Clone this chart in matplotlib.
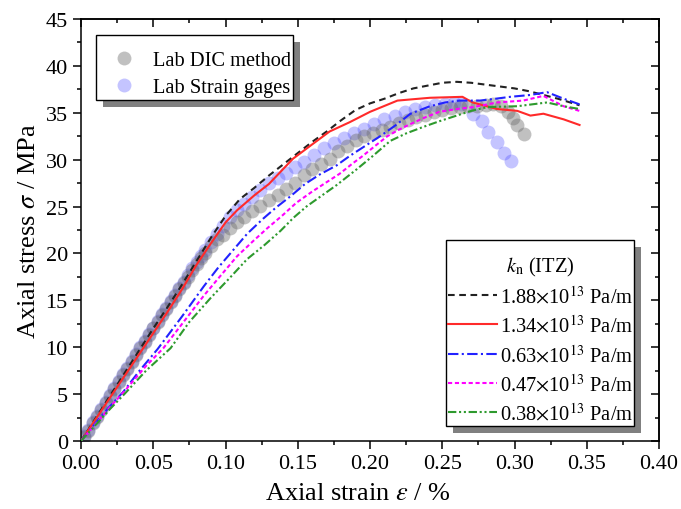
import numpy as np
import matplotlib
matplotlib.use('Agg')
import matplotlib.pyplot as plt
from matplotlib.patches import Rectangle
from matplotlib.ticker import MultipleLocator, FormatStrFormatter

plt.rcParams['font.family'] = ['Liberation Serif', 'DejaVu Serif']
plt.rcParams['mathtext.fontset'] = 'stix'

# Лабораторные данные: датчики деформации
gage_x = [0.002, 0.005, 0.008, 0.011, 0.014, 0.017, 0.020, 0.023, 0.026, 0.029,
          0.032, 0.035, 0.038, 0.041, 0.044, 0.047, 0.050, 0.053, 0.056, 0.059,
          0.062, 0.065, 0.068, 0.071, 0.074, 0.077, 0.080, 0.083, 0.086, 0.090,
          0.094, 0.098, 0.103, 0.108, 0.113, 0.118, 0.124, 0.130, 0.136, 0.142,
          0.148, 0.154, 0.161, 0.168, 0.175, 0.182, 0.189, 0.196, 0.203, 0.210,
          0.217, 0.224, 0.231, 0.238, 0.245, 0.252, 0.258, 0.263, 0.271, 0.2775,
          0.282, 0.288, 0.293, 0.2976]
gage_y = [0.5, 1.2, 2.0, 2.7, 3.4, 4.2, 4.9, 5.6, 6.4, 7.1,
          7.8, 8.5, 9.3, 10.0, 10.7, 11.4, 12.1, 12.8, 13.5, 14.2,
          14.9, 15.6, 16.3, 17.0, 17.7, 18.4, 19.1, 19.7, 20.4, 21.2,
          22.1, 22.9, 23.9, 24.6, 25.3, 26.0, 26.8, 27.5, 28.0, 28.6,
          29.2, 29.8, 30.5, 31.2, 31.8, 32.3, 32.8, 33.3, 33.8, 34.3,
          34.7, 35.1, 35.4, 35.6, 35.8, 35.9, 36.0, 35.9, 34.9, 34.1,
          33.0, 31.9, 30.7, 29.9]

# Лабораторные данные: метод DIC
dic_x = [0.002, 0.005, 0.008, 0.011, 0.014, 0.017, 0.020, 0.023, 0.026, 0.029,
         0.032, 0.035, 0.038, 0.041, 0.044, 0.047, 0.050, 0.053, 0.056, 0.059,
         0.062, 0.065, 0.068, 0.071, 0.074, 0.077, 0.080, 0.083, 0.086, 0.090,
         0.094, 0.098, 0.103, 0.108, 0.113, 0.118, 0.124, 0.130, 0.136, 0.142,
         0.148, 0.154, 0.160, 0.166, 0.172, 0.178, 0.184, 0.190, 0.196, 0.202,
         0.208, 0.214, 0.220, 0.226, 0.232, 0.238, 0.244, 0.250, 0.256, 0.262,
         0.268, 0.274, 0.280, 0.285, 0.2905, 0.2955, 0.299, 0.302, 0.3066]
dic_y = [0.4, 1.1, 1.9, 2.6, 3.3, 4.1, 4.8, 5.5, 6.3, 7.0,
         7.7, 8.4, 9.2, 9.9, 10.6, 11.3, 12.0, 12.7, 13.4, 14.1,
         14.8, 15.5, 16.2, 16.8, 17.5, 18.2, 18.9, 19.5, 20.1, 20.8,
         21.5, 22.0, 22.7, 23.3, 23.9, 24.5, 25.1, 25.7, 26.2, 26.9,
         27.5, 28.4, 29.0, 29.5, 30.1, 30.9, 31.5, 32.1, 32.5, 32.8,
         33.2, 33.5, 33.9, 34.2, 34.5, 34.8, 35.1, 35.3, 35.5, 35.6,
         35.7, 35.7, 35.8, 35.9, 35.7, 35.1, 34.4, 33.7, 32.7]

# Численные кривые для разных k_n (ITZ)
k188_x = [0, 0.01, 0.02, 0.03, 0.04, 0.05, 0.06, 0.07, 0.08, 0.09, 0.10, 0.11,
          0.12, 0.13, 0.14, 0.15, 0.16, 0.17, 0.18, 0.19, 0.20, 0.21, 0.22, 0.23,
          0.24, 0.25, 0.26, 0.27, 0.28, 0.29, 0.30, 0.31, 0.32, 0.33, 0.345]
k188_y = [0, 2.4, 4.8, 7.2, 9.6, 12.0, 14.3, 16.7, 19.2, 21.7, 24.0, 25.8,
          27.0, 28.3, 29.5, 30.7, 31.9, 33.0, 34.2, 35.3, 36.0, 36.5, 37.1, 37.6,
          37.9, 38.2, 38.3, 38.2, 38.0, 37.8, 37.6, 37.3, 36.9, 36.5, 35.8]

k134_x = [0, 0.01, 0.02, 0.03, 0.04, 0.05, 0.06, 0.07, 0.08, 0.09, 0.10, 0.108,
          0.12, 0.13, 0.1467, 0.1606, 0.172, 0.186, 0.20, 0.219, 0.2415, 0.264, 0.271,
          0.288, 0.302, 0.311, 0.32, 0.334, 0.345]
k134_y = [0, 2.3, 4.6, 6.9, 9.2, 11.5, 13.8, 16.2, 18.8, 21.1, 23.3, 24.6,
          26.2, 27.4, 30.1, 31.7, 33.0, 34.0, 35.1, 36.3, 36.6, 36.7, 36.1,
          35.4, 35.2, 34.7, 34.9, 34.3, 33.7]

k063_x = [0, 0.01, 0.02, 0.029, 0.04, 0.053, 0.07, 0.085, 0.095, 0.105, 0.115,
          0.126, 0.135, 0.145, 0.155, 0.165, 0.177, 0.186, 0.196, 0.207, 0.218,
          0.228, 0.2415, 0.252, 0.262, 0.276, 0.287, 0.297, 0.311, 0.3225, 0.334, 0.345]
k063_y = [0, 1.9, 3.7, 5.2, 7.4, 9.8, 13.3, 16.5, 18.5, 20.3, 22.1,
          23.7, 24.9, 26.1, 27.4, 28.4, 29.4, 30.4, 31.4, 32.5, 33.7,
          34.9, 35.7, 36.1, 36.3, 36.3, 36.5, 36.7, 36.9, 37.2, 36.5, 35.9]

k047_x = [0, 0.01, 0.02, 0.03, 0.045, 0.057, 0.07, 0.085, 0.097, 0.108, 0.119,
          0.129, 0.139, 0.149, 0.16, 0.17, 0.179, 0.188, 0.195, 0.203, 0.212,
          0.22, 0.228, 0.238, 0.248, 0.26, 0.271, 0.288, 0.306, 0.32, 0.334, 0.345]
k047_y = [0, 1.8, 3.6, 5.3, 8.0, 9.9, 12.5, 15.5, 17.7, 19.7, 21.3,
          22.7, 24.0, 25.4, 26.6, 27.6, 28.5, 29.6, 30.4, 31.4, 32.5,
          33.2, 33.8, 34.5, 35.1, 35.4, 35.6, 36.1, 36.3, 36.8, 35.7, 35.2]

k038_x = [0, 0.01, 0.02, 0.03, 0.045, 0.062, 0.075, 0.09, 0.103, 0.115, 0.127,
          0.138, 0.147, 0.156, 0.166, 0.177, 0.191, 0.202, 0.208, 0.214, 0.225,
          0.237, 0.248, 0.26, 0.27, 0.281, 0.302, 0.3225, 0.334, 0.345]
k038_y = [0, 1.7, 3.4, 5.0, 7.5, 9.9, 12.7, 15.3, 17.4, 19.4, 20.9,
          22.4, 23.8, 25.0, 26.1, 27.3, 29.0, 30.4, 31.2, 32.0, 32.8,
          33.5, 34.1, 34.7, 35.2, 35.6, 35.7, 36.1, 35.7, 35.4]

fig = plt.figure(figsize=(6.81, 5.10), dpi=100)
ax = fig.add_axes([81/681, 68/510, 578/681, 422/510])

h_gage, = ax.plot(gage_x, gage_y, 'o', ms=10, color=(0.3, 0.3, 1.0), alpha=0.33,
                  mec='none', zorder=2)
h_dic, = ax.plot(dic_x, dic_y, 'o', ms=10, color=(0.42, 0.42, 0.42), alpha=0.42,
                 mec='none', zorder=2)

lw = 1.5
l1, = ax.plot(k188_x, k188_y, color='#222222', lw=lw, ls=(0, (3.2, 2.2)), zorder=3)
l2, = ax.plot(k134_x, k134_y, color='#ff2a2a', lw=lw, ls='-', zorder=3)
l3, = ax.plot(k063_x, k063_y, color='#2222ff', lw=lw, ls=(0, (5, 1.6, 1, 1.6)), zorder=3)
l4, = ax.plot(k047_x, k047_y, color='#ff00ff', lw=lw, ls=(0, (2, 1.3)), zorder=3)
l5, = ax.plot(k038_x, k038_y, color='#2e9a2e', lw=lw, ls=(0, (4, 1.3, 1, 1.3, 1, 1.3)), zorder=3)

ax.set_xlim(0, 0.40)
ax.set_ylim(0, 45)
ax.xaxis.set_major_locator(MultipleLocator(0.05))
ax.xaxis.set_minor_locator(MultipleLocator(0.025))
ax.yaxis.set_major_locator(MultipleLocator(5))
ax.yaxis.set_minor_locator(MultipleLocator(2.5))
ax.xaxis.set_major_formatter(FormatStrFormatter('%.2f'))
ax.tick_params(which='major', direction='out', length=6, width=1.1, labelsize=16)
ax.tick_params(which='minor', direction='out', length=3, width=1.1)
for s in ax.spines.values():
    s.set_linewidth(1.1)

# верхняя и правая оси: засечки внутрь
top = ax.secondary_xaxis('top')
top.xaxis.set_major_locator(MultipleLocator(0.05))
top.xaxis.set_minor_locator(MultipleLocator(0.025))
top.tick_params(which='major', direction='in', length=6, width=1.1, labeltop=False)
top.tick_params(which='minor', direction='in', length=3, width=1.1)
right = ax.secondary_yaxis('right')
right.yaxis.set_major_locator(MultipleLocator(5))
right.yaxis.set_minor_locator(MultipleLocator(2.5))
right.tick_params(which='major', direction='in', length=6, width=1.1, labelright=False)
right.tick_params(which='minor', direction='in', length=3, width=1.1)
top.spines['top'].set_linewidth(1.1)
right.spines['right'].set_linewidth(1.1)

ax.set_xlabel(r'Axial strain $\varepsilon$ / %', fontsize=19, labelpad=6)
ax.xaxis.label.set_x(0.479)
ax.set_ylabel(r'Axial stress $\sigma$ / MPa', fontsize=19, labelpad=4)

leg1 = ax.legend([h_dic, h_gage], ['Lab DIC method', 'Lab Strain gages'],
                 loc='upper left', bbox_to_anchor=(0.0502, 0.9245), borderaxespad=0,
                 fontsize=14.7, frameon=False, handlelength=1.37, handletextpad=0.73,
                 labelspacing=0.36, borderpad=0, numpoints=1)
ax.add_artist(leg1)

labels = [r'1.88$\times$10$^{13}$ Pa/m', r'1.34$\times$10$^{13}$ Pa/m',
          r'0.63$\times$10$^{13}$ Pa/m', r'0.47$\times$10$^{13}$ Pa/m',
          r'0.38$\times$10$^{13}$ Pa/m']
leg2 = ax.legend([l1, l2, l3, l4, l5], labels, title=r'$k_\mathrm{n}$ (ITZ)',
                 title_fontsize=14.7, loc='upper left', bbox_to_anchor=(0.635, 0.441),
                 borderaxespad=0, fontsize=14.7, frameon=False,
                 handlelength=2.4, handletextpad=0.15, labelspacing=0.36, borderpad=0)

# рамки легенд с тенью (в долях осей)
frames = [(0.026, 0.808, 0.341, 0.154), (0.6315, 0.0355, 0.3253, 0.4408)]
dx, dy = 7 / 578, 7 / 422
for (fx, fy, fw, fh) in frames:
    ax.add_patch(Rectangle((fx + dx, fy - dy), fw, fh, transform=ax.transAxes,
                           facecolor='#808080', edgecolor='none', zorder=4.4, clip_on=False))
    ax.add_patch(Rectangle((fx, fy), fw, fh, transform=ax.transAxes,
                           facecolor='white', edgecolor='black', lw=1.0, zorder=4.6, clip_on=False))

fig.savefig('out.png', dpi=100)
